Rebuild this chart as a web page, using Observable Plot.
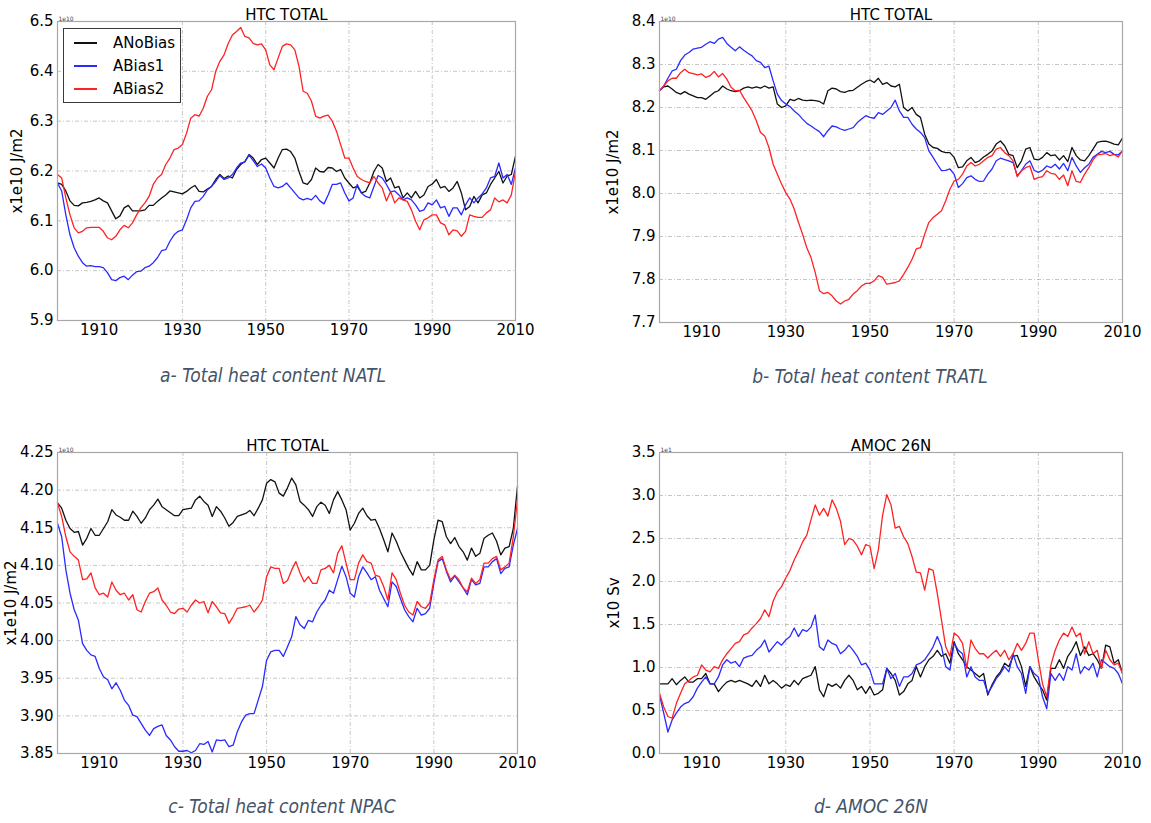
<!DOCTYPE html>
<html>
<head>
<meta charset="utf-8">
<script src="https://cdn.jsdelivr.net/npm/d3@7"></script>
<script src="https://cdn.jsdelivr.net/npm/@observablehq/plot@0.6"></script>
<style>
  html, body { margin: 0; padding: 0; background: #fff; }
  #fig { position: relative; width: 1151px; height: 823px; overflow: hidden; background: #fff; font-family: "DejaVu Sans", sans-serif; }
  .panel { position: absolute; }
  .panel svg { display: block; }
  .caption { position: absolute; transform: translateX(-50%); white-space: nowrap;
    font-family: "Liberation Sans Narrow", "DejaVu Sans Condensed", "Open Sans", sans-serif;
    font-style: italic; font-size: 19px; line-height: 24px; color: #44546a; }
  .legend { position: absolute; border: 1px solid #3a3a3a; background: #fff; box-sizing: border-box; font-size: 15px; color: #000; }
  .legend .row { position: absolute; left: 0; height: 20px; line-height: 20px; white-space: nowrap; }
  .legend .swatch { position: absolute; left: 10px; top: 9px; width: 23px; height: 1.5px; }
  .legend .name { position: absolute; left: 49px; top: 0; }
</style>
</head>
<body>
<div id="fig"></div>
<script>
// ---- series names and colours ----
const seriesNames = ["ANoBias", "ABias1", "ABias2"];
const seriesColors = ["#111111", "#2a2aff", "#ff2222"];

// ---- axis ticks ----
const yearTicks = [1910, 1930, 1950, 1970, 1990, 2010];
const yearGrid = [1930, 1950, 1970, 1990];
const natlTicks = [5.9, 6.0, 6.1, 6.2, 6.3, 6.4, 6.5];
const tratlTicks = [7.7, 7.8, 7.9, 8.0, 8.1, 8.2, 8.3, 8.4];
const npacTicks = [3.85, 3.90, 3.95, 4.00, 4.05, 4.10, 4.15, 4.20, 4.25];
const amocTicks = [0.0, 0.5, 1.0, 1.5, 2.0, 2.5, 3.0, 3.5];

// annual values, 1900..2010 (111 per series)
const firstYear = 1900;

// (a) Total heat content NATL, x1e10 J/m2
const natlNoBias = [
  6.176, 6.173, 6.160, 6.140, 6.131, 6.130, 6.136, 6.137, 6.139, 6.142,
  6.146, 6.140, 6.136, 6.120, 6.104, 6.110, 6.126, 6.131, 6.120, 6.120,
  6.120, 6.122, 6.131, 6.131, 6.139, 6.146, 6.152, 6.160, 6.158, 6.156,
  6.154, 6.159, 6.166, 6.171, 6.159, 6.158, 6.164, 6.169, 6.183, 6.193,
  6.185, 6.190, 6.186, 6.203, 6.213, 6.219, 6.233, 6.226, 6.213, 6.223,
  6.226, 6.216, 6.206, 6.226, 6.243, 6.244, 6.239, 6.226, 6.199, 6.176,
  6.173, 6.183, 6.206, 6.199, 6.198, 6.207, 6.206, 6.199, 6.203, 6.186,
  6.176, 6.166, 6.169, 6.156, 6.159, 6.176, 6.199, 6.213, 6.206, 6.179,
  6.186, 6.166, 6.169, 6.146, 6.156, 6.146, 6.159, 6.146, 6.152, 6.169,
  6.174, 6.183, 6.166, 6.169, 6.159, 6.166, 6.179, 6.156, 6.122, 6.129,
  6.149, 6.136, 6.152, 6.156, 6.173, 6.186, 6.199, 6.176, 6.190, 6.193, 6.230
];
const natlBias1 = [
  6.176, 6.160, 6.112, 6.072, 6.046, 6.029, 6.016, 6.009, 6.010, 6.008,
  6.008, 6.006, 5.996, 5.982, 5.980, 5.986, 5.989, 5.982, 5.991, 5.998,
  5.999, 6.006, 6.009, 6.016, 6.026, 6.040, 6.042, 6.059, 6.072, 6.079,
  6.082, 6.102, 6.126, 6.139, 6.140, 6.149, 6.162, 6.169, 6.179, 6.191,
  6.183, 6.186, 6.193, 6.206, 6.216, 6.218, 6.232, 6.221, 6.209, 6.214,
  6.206, 6.186, 6.169, 6.166, 6.169, 6.176, 6.166, 6.156, 6.146, 6.142,
  6.145, 6.142, 6.151, 6.140, 6.134, 6.152, 6.173, 6.173, 6.176, 6.156,
  6.140, 6.146, 6.173, 6.156, 6.149, 6.146, 6.169, 6.191, 6.186, 6.173,
  6.158, 6.160, 6.152, 6.142, 6.146, 6.142, 6.132, 6.119, 6.122, 6.136,
  6.132, 6.142, 6.126, 6.129, 6.109, 6.126, 6.126, 6.112, 6.132, 6.146,
  6.136, 6.146, 6.154, 6.166, 6.186, 6.189, 6.216, 6.186, 6.193, 6.173, 6.206
];
const natlBias2 = [
  6.193, 6.186, 6.146, 6.112, 6.086, 6.076, 6.079, 6.086, 6.087, 6.087,
  6.087, 6.079, 6.066, 6.062, 6.069, 6.082, 6.091, 6.086, 6.096, 6.112,
  6.126, 6.136, 6.149, 6.173, 6.186, 6.193, 6.213, 6.226, 6.243, 6.246,
  6.253, 6.276, 6.306, 6.313, 6.310, 6.326, 6.350, 6.363, 6.400, 6.420,
  6.433, 6.456, 6.473, 6.480, 6.488, 6.470, 6.467, 6.456, 6.453, 6.455,
  6.443, 6.413, 6.403, 6.427, 6.450, 6.455, 6.453, 6.443, 6.410, 6.360,
  6.356, 6.340, 6.310, 6.306, 6.310, 6.312, 6.300, 6.280, 6.253, 6.226,
  6.226, 6.206, 6.189, 6.183, 6.179, 6.176, 6.189, 6.176, 6.166, 6.140,
  6.159, 6.136, 6.146, 6.142, 6.139, 6.122, 6.099, 6.082, 6.102, 6.106,
  6.112, 6.112, 6.096, 6.092, 6.072, 6.082, 6.080, 6.069, 6.079, 6.112,
  6.109, 6.107, 6.107, 6.116, 6.122, 6.146, 6.138, 6.142, 6.136, 6.152, 6.199
];

// (b) Total heat content TRATL, x1e10 J/m2
const tratlNoBias = [
  8.239, 8.248, 8.250, 8.243, 8.235, 8.231, 8.237, 8.231, 8.227, 8.223,
  8.223, 8.219, 8.227, 8.235, 8.239, 8.250, 8.243, 8.239, 8.237, 8.239,
  8.245, 8.248, 8.245, 8.248, 8.245, 8.250, 8.245, 8.248, 8.208, 8.200,
  8.204, 8.219, 8.216, 8.221, 8.217, 8.216, 8.217, 8.216, 8.214, 8.208,
  8.239, 8.245, 8.243, 8.237, 8.235, 8.239, 8.240, 8.247, 8.254, 8.260,
  8.264, 8.258, 8.268, 8.254, 8.258, 8.250, 8.248, 8.254, 8.200, 8.192,
  8.200, 8.184, 8.177, 8.138, 8.115, 8.107, 8.105, 8.098, 8.095, 8.095,
  8.084, 8.060, 8.062, 8.076, 8.084, 8.072, 8.076, 8.085, 8.091, 8.099,
  8.115, 8.122, 8.111, 8.091, 8.088, 8.060, 8.076, 8.103, 8.107, 8.080,
  8.078, 8.084, 8.095, 8.088, 8.090, 8.078, 8.088, 8.074, 8.107, 8.088,
  8.078, 8.076, 8.088, 8.103, 8.119, 8.121, 8.122, 8.119, 8.115, 8.113, 8.129
];
const tratlBias1 = [
  8.239, 8.250, 8.268, 8.285, 8.289, 8.309, 8.322, 8.328, 8.336, 8.338,
  8.340, 8.347, 8.353, 8.349, 8.359, 8.363, 8.349, 8.340, 8.332, 8.341,
  8.333, 8.326, 8.320, 8.309, 8.305, 8.293, 8.296, 8.262, 8.231, 8.216,
  8.208, 8.202, 8.192, 8.184, 8.173, 8.163, 8.157, 8.150, 8.144, 8.132,
  8.146, 8.157, 8.155, 8.150, 8.147, 8.150, 8.153, 8.165, 8.173, 8.181,
  8.177, 8.175, 8.188, 8.184, 8.192, 8.200, 8.217, 8.192, 8.177, 8.177,
  8.161, 8.150, 8.142, 8.130, 8.099, 8.084, 8.068, 8.053, 8.054, 8.057,
  8.045, 8.014, 8.023, 8.037, 8.041, 8.033, 8.028, 8.029, 8.045, 8.057,
  8.076, 8.082, 8.079, 8.076, 8.072, 8.041, 8.053, 8.068, 8.076, 8.054,
  8.049, 8.054, 8.064, 8.060, 8.068, 8.057, 8.070, 8.053, 8.084, 8.064,
  8.049, 8.060, 8.068, 8.084, 8.091, 8.098, 8.095, 8.098, 8.091, 8.090, 8.099
];
const tratlBias2 = [
  8.239, 8.250, 8.262, 8.268, 8.268, 8.281, 8.289, 8.281, 8.279, 8.276,
  8.278, 8.270, 8.274, 8.284, 8.271, 8.279, 8.266, 8.247, 8.239, 8.240,
  8.223, 8.208, 8.192, 8.169, 8.142, 8.134, 8.107, 8.068, 8.045, 8.022,
  8.002, 7.987, 7.964, 7.933, 7.905, 7.874, 7.851, 7.816, 7.774, 7.767,
  7.770, 7.762, 7.750, 7.743, 7.750, 7.754, 7.766, 7.774, 7.785, 7.791,
  7.791, 7.797, 7.809, 7.805, 7.789, 7.791, 7.793, 7.797, 7.812, 7.828,
  7.847, 7.871, 7.874, 7.905, 7.933, 7.944, 7.952, 7.960, 7.983, 8.010,
  8.029, 8.033, 8.045, 8.064, 8.072, 8.064, 8.068, 8.076, 8.084, 8.088,
  8.103, 8.107, 8.095, 8.088, 8.076, 8.039, 8.053, 8.060, 8.064, 8.033,
  8.037, 8.039, 8.053, 8.047, 8.045, 8.033, 8.043, 8.018, 8.053, 8.028,
  8.026, 8.045, 8.060, 8.078, 8.090, 8.091, 8.093, 8.088, 8.091, 8.085, 8.099
];

// (c) Total heat content NPAC, x1e10 J/m2
const npacNoBias = [
  4.183, 4.176, 4.160, 4.149, 4.144, 4.145, 4.127, 4.136, 4.149, 4.140,
  4.140, 4.149, 4.158, 4.174, 4.167, 4.164, 4.160, 4.160, 4.172, 4.165,
  4.156, 4.163, 4.174, 4.180, 4.188, 4.178, 4.174, 4.170, 4.166, 4.166,
  4.174, 4.175, 4.176, 4.187, 4.192, 4.185, 4.180, 4.165, 4.178, 4.172,
  4.163, 4.152, 4.157, 4.165, 4.167, 4.169, 4.173, 4.166, 4.176, 4.187,
  4.209, 4.214, 4.211, 4.196, 4.192, 4.203, 4.216, 4.207, 4.185, 4.180,
  4.174, 4.165, 4.178, 4.184, 4.180, 4.169, 4.187, 4.198, 4.187, 4.174,
  4.147, 4.156, 4.169, 4.176, 4.166, 4.160, 4.161, 4.149, 4.134, 4.118,
  4.143, 4.132, 4.118, 4.107, 4.096, 4.087, 4.105, 4.094, 4.094, 4.100,
  4.134, 4.160, 4.158, 4.138, 4.129, 4.137, 4.125, 4.118, 4.107, 4.123,
  4.112, 4.116, 4.136, 4.140, 4.143, 4.132, 4.114, 4.123, 4.125, 4.149, 4.205
];
const npacBias1 = [
  4.156, 4.138, 4.094, 4.063, 4.041, 4.027, 3.996, 3.987, 3.981, 3.979,
  3.963, 3.952, 3.948, 3.936, 3.944, 3.934, 3.921, 3.914, 3.901, 3.899,
  3.890, 3.881, 3.874, 3.883, 3.886, 3.888, 3.874, 3.868, 3.859, 3.853,
  3.853, 3.854, 3.851, 3.854, 3.863, 3.862, 3.866, 3.852, 3.868, 3.867,
  3.868, 3.859, 3.861, 3.879, 3.892, 3.901, 3.903, 3.903, 3.921, 3.939,
  3.974, 3.985, 3.987, 3.987, 3.979, 3.992, 4.005, 4.032, 4.021, 4.016,
  4.027, 4.025, 4.038, 4.047, 4.054, 4.067, 4.063, 4.081, 4.099, 4.085,
  4.063, 4.058, 4.085, 4.098, 4.090, 4.081, 4.085, 4.067, 4.056, 4.045,
  4.078, 4.072, 4.056, 4.041, 4.032, 4.025, 4.043, 4.034, 4.036, 4.043,
  4.076, 4.105, 4.109, 4.092, 4.078, 4.086, 4.078, 4.070, 4.061, 4.081,
  4.074, 4.076, 4.098, 4.098, 4.105, 4.109, 4.089, 4.096, 4.098, 4.127, 4.149
];
const npacBias2 = [
  4.183, 4.165, 4.138, 4.118, 4.112, 4.107, 4.081, 4.082, 4.090, 4.070,
  4.061, 4.063, 4.058, 4.078, 4.067, 4.061, 4.063, 4.054, 4.061, 4.041,
  4.038, 4.052, 4.063, 4.065, 4.070, 4.054, 4.047, 4.038, 4.036, 4.042,
  4.043, 4.038, 4.047, 4.054, 4.050, 4.052, 4.037, 4.052, 4.045, 4.037,
  4.036, 4.023, 4.032, 4.043, 4.044, 4.045, 4.047, 4.038, 4.045, 4.054,
  4.085, 4.098, 4.096, 4.096, 4.076, 4.080, 4.094, 4.105, 4.090, 4.078,
  4.085, 4.076, 4.076, 4.094, 4.096, 4.100, 4.090, 4.116, 4.126, 4.103,
  4.081, 4.081, 4.103, 4.114, 4.105, 4.103, 4.087, 4.085, 4.072, 4.054,
  4.090, 4.081, 4.063, 4.047, 4.038, 4.034, 4.052, 4.045, 4.043, 4.050,
  4.081, 4.107, 4.112, 4.094, 4.081, 4.087, 4.081, 4.070, 4.065, 4.083,
  4.076, 4.081, 4.103, 4.103, 4.109, 4.112, 4.094, 4.098, 4.103, 4.138, 4.187
];

// (d) AMOC at 26N, x10 Sv
const amocNoBias = [
  0.81, 0.81, 0.81, 0.87, 0.80, 0.85, 0.89, 0.83, 0.83, 0.87,
  0.87, 0.93, 0.81, 0.81, 0.72, 0.78, 0.83, 0.85, 0.83, 0.85,
  0.83, 0.81, 0.78, 0.85, 0.78, 0.91, 0.81, 0.85, 0.81, 0.76,
  0.80, 0.78, 0.85, 0.80, 0.87, 0.89, 0.91, 1.01, 0.74, 0.66,
  0.81, 0.78, 0.81, 0.76, 0.85, 0.91, 0.85, 0.74, 0.78, 0.70,
  0.78, 0.68, 0.70, 0.74, 0.99, 0.93, 0.85, 0.68, 0.72, 0.81,
  0.85, 1.01, 0.89, 1.01, 1.09, 1.13, 1.20, 1.13, 1.16, 1.05,
  1.30, 1.16, 1.09, 1.01, 0.97, 0.93, 0.89, 0.93, 0.68, 0.80,
  0.89, 0.95, 1.05, 1.01, 1.13, 1.14, 1.01, 0.78, 1.01, 0.89,
  0.81, 0.74, 0.62, 0.99, 0.99, 1.09, 0.99, 1.13, 1.20, 1.30,
  1.14, 1.24, 1.14, 1.16, 1.09, 0.99, 1.26, 1.24, 1.05, 1.09, 0.93
];
const amocBias1 = [
  0.68, 0.47, 0.25, 0.39, 0.47, 0.54, 0.58, 0.60, 0.66, 0.76,
  0.83, 0.89, 0.81, 0.81, 0.89, 1.03, 1.09, 1.05, 1.07, 1.01,
  1.11, 1.13, 1.14, 1.20, 1.24, 1.32, 1.18, 1.24, 1.30, 1.26,
  1.32, 1.36, 1.46, 1.36, 1.44, 1.42, 1.47, 1.61, 1.24, 1.20,
  1.32, 1.28, 1.26, 1.16, 1.20, 1.26, 1.20, 1.13, 1.03, 1.05,
  0.97, 0.81, 0.81, 0.81, 0.99, 0.87, 0.93, 0.78, 0.89, 0.89,
  0.93, 1.03, 1.05, 1.09, 1.16, 1.24, 1.36, 1.24, 1.01, 0.97,
  1.28, 1.20, 1.16, 0.89, 1.01, 0.89, 0.85, 0.85, 0.70, 0.78,
  0.87, 0.93, 1.01, 0.95, 1.16, 1.01, 0.93, 0.70, 1.01, 0.93,
  0.89, 0.66, 0.52, 0.93, 0.85, 0.93, 0.85, 1.01, 0.97, 1.16,
  0.93, 1.01, 0.97, 1.05, 0.89, 1.09, 1.05, 1.01, 0.99, 0.93, 0.81
];
const amocBias2 = [
  0.70, 0.54, 0.43, 0.41, 0.58, 0.70, 0.81, 0.85, 0.89, 0.91,
  1.03, 0.97, 0.95, 1.01, 0.99, 1.09, 1.16, 1.22, 1.28, 1.30,
  1.38, 1.40, 1.46, 1.51, 1.57, 1.67, 1.59, 1.77, 1.88, 1.94,
  2.04, 2.13, 2.25, 2.35, 2.46, 2.54, 2.72, 2.89, 2.77, 2.85,
  2.76, 2.95, 2.85, 2.70, 2.43, 2.50, 2.48, 2.41, 2.31, 2.43,
  2.41, 2.15, 2.37, 2.77, 3.01, 2.89, 2.62, 2.64, 2.52, 2.44,
  2.29, 2.11, 2.10, 1.90, 2.15, 2.13, 1.86, 1.55, 1.24, 1.13,
  1.40, 1.36, 1.28, 0.99, 1.32, 1.22, 1.16, 1.16, 1.11, 1.16,
  1.20, 1.13, 1.20, 1.09, 1.16, 1.28, 1.20, 1.28, 1.40, 1.40,
  1.09, 0.81, 0.66, 1.03, 1.20, 1.32, 1.40, 1.36, 1.47, 1.36,
  1.40, 1.16, 1.30, 1.16, 1.20, 0.99, 1.20, 1.09, 1.03, 1.05, 0.93
];

// long-format table for one panel
function toRows(seriesValues) {
  const rows = [];
  seriesValues.forEach((values, s) => {
    values.forEach((v, i) => rows.push({series: seriesNames[s], year: firstYear + i, value: v}));
  });
  return rows;
}

const fig = document.getElementById("fig");
const gridStyle = {stroke: "#8a8a8a", strokeOpacity: 0.6, strokeWidth: 0.8, strokeDasharray: "4,2,1,2"};

function panel({left, top, width, height, margins, values, yTicks, yFormat, title, ylabel, offset, ylabelDx}) {
  const [mt, mr, mb, ml] = margins;
  const chart = Plot.plot({
    width, height,
    marginTop: mt, marginRight: mr, marginBottom: mb, marginLeft: ml,
    style: {fontFamily: "'DejaVu Sans', sans-serif", fontSize: "15px", color: "#000", background: "none", overflow: "visible"},
    x: {domain: [1900, 2010]},
    y: {domain: [yTicks[0], yTicks[yTicks.length - 1]]},
    color: {domain: seriesNames, range: seriesColors},
    marks: [
      Plot.gridX(yearGrid, gridStyle),
      Plot.gridY(yTicks.slice(1, -1), gridStyle),
      Plot.line(toRows(values), {x: "year", y: "value", z: "series", stroke: "series", strokeWidth: 1.3}),
      Plot.frame({stroke: "#a8a8a8", strokeWidth: 1.2}),
      Plot.axisX(yearTicks, {tickSize: 0, tickPadding: 4, label: null, tickFormat: d => String(d), fontSize: 15}),
      Plot.axisY(yTicks, {tickSize: 0, tickPadding: 4, label: null, tickFormat: yFormat, fontSize: 15}),
      Plot.text([title], {text: d => d, frameAnchor: "top", lineAnchor: "bottom", dy: -2, fontSize: 15}),
      Plot.text([ylabel], {text: d => d, frameAnchor: "left", rotate: -90, textAnchor: "middle", lineAnchor: "middle", dx: ylabelDx, fontSize: 15}),
      Plot.text([offset], {text: d => d, frameAnchor: "top-left", textAnchor: "start", lineAnchor: "bottom", dx: 1, dy: -1, fontSize: 6, fill: "#444"})
    ]
  });
  const holder = document.createElement("div");
  holder.className = "panel";
  holder.style.left = left + "px";
  holder.style.top = top + "px";
  holder.appendChild(chart);
  fig.appendChild(holder);
}

const f1 = d3.format(".1f"), f2 = d3.format(".2f");

panel({left: 0, top: 0, width: 560, height: 345, margins: [21, 45, 25, 57],
  values: [natlNoBias, natlBias1, natlBias2], yTicks: natlTicks, yFormat: f1,
  title: "HTC TOTAL", ylabel: "x1e10 J/m2", offset: "1e10", ylabelDx: -40});
panel({left: 570, top: 0, width: 581, height: 345, margins: [21, 29, 23, 89],
  values: [tratlNoBias, tratlBias1, tratlBias2], yTicks: tratlTicks, yFormat: f1,
  title: "HTC TOTAL", ylabel: "x1e10 J/m2", offset: "1e10", ylabelDx: -46});
panel({left: 0, top: 420, width: 560, height: 360, margins: [32, 43, 27, 57],
  values: [npacNoBias, npacBias1, npacBias2], yTicks: npacTicks, yFormat: f2,
  title: "HTC TOTAL", ylabel: "x1e10 J/m2", offset: "1e10", ylabelDx: -46});
panel({left: 570, top: 420, width: 581, height: 360, margins: [32, 29, 27, 89],
  values: [amocNoBias, amocBias1, amocBias2], yTicks: amocTicks, yFormat: f1,
  title: "AMOC 26N", ylabel: "x10 Sv", offset: "1e1", ylabelDx: -45});

// legend inside panel (a)
const legend = document.createElement("div");
legend.className = "legend";
Object.assign(legend.style, {left: "63px", top: "28px", width: "118px", height: "75px"});
seriesNames.forEach((name, i) => {
  const row = document.createElement("div");
  row.className = "row";
  row.style.top = (4 + i * 23) + "px";
  row.style.width = "100%";
  const sw = document.createElement("span");
  sw.className = "swatch";
  sw.style.background = seriesColors[i];
  const label = document.createElement("span");
  label.className = "name";
  label.textContent = name;
  row.appendChild(sw);
  row.appendChild(label);
  legend.appendChild(row);
});
fig.appendChild(legend);

// panel captions
const captions = [
  {text: "a- Total heat content NATL", x: 273, y: 363},
  {text: "b- Total heat content TRATL", x: 870, y: 364},
  {text: "c- Total heat content NPAC", x: 282, y: 794},
  {text: "d- AMOC 26N", x: 871, y: 794}
];
captions.forEach(c => {
  const el = document.createElement("div");
  el.className = "caption";
  el.style.left = c.x + "px";
  el.style.top = c.y + "px";
  el.textContent = c.text;
  fig.appendChild(el);
});
</script>
</body>
</html>
